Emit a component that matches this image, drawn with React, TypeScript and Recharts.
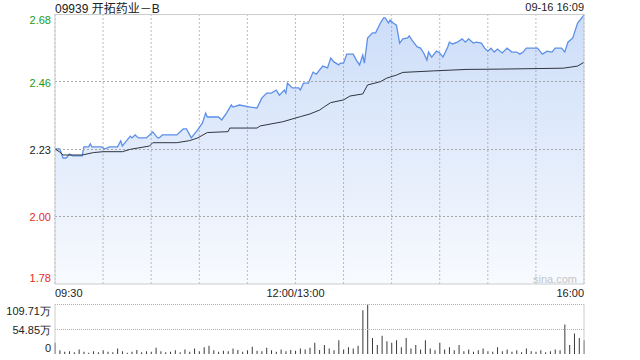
import React from 'react';
import {
  ComposedChart,
  Area,
  Line,
  XAxis,
  YAxis,
  CartesianGrid,
  ReferenceLine,
  BarChart,
  Bar,
} from 'recharts';

// 09939 intraday, 2.23 = previous close
const prevClose = 2.23;
const limitPcts = [0.2023, 0.1011, 0, -0.1011, -0.2023];
const priceTickLabels = ['2.68', '2.46', '2.23', '2.00', '1.78'];
const pctTickLabels = ['+20.23%', '+10.11%', '0.00%', '-10.11%', '-20.23%'];
const timeTicks = [0, 30, 60, 90, 120, 150, 180, 210, 240, 270, 300, 330];
const timeLabels: Record<number, string> = { 0: '09:30', 150: '12:00/13:00', 330: '16:00' };

// minutes since 09:30 (lunch break removed)
const priceMinutes = [
  0, 3, 5, 7, 9, 11, 17, 18, 21, 22, 23, 29, 31, 34, 39, 41, 42, 47, 48, 50,
  52, 57, 61, 64, 65, 67, 76, 80, 82, 85, 89, 92, 94, 95, 102, 104, 107, 110, 111, 115,
  122, 126, 129, 132, 135, 138, 140, 143, 144, 145, 148, 152, 153, 155, 158, 161, 163, 167, 170, 172,
  174, 177, 178, 180, 182, 186, 188, 190, 192, 193, 195, 198, 200, 203, 205, 206, 208, 209, 211, 213,
  215, 217, 220, 221, 223, 226, 228, 230, 232, 233, 235, 238, 240, 242, 245, 246, 248, 251, 254, 256,
  258, 261, 263, 266, 268, 270, 272, 274, 276, 279, 282, 285, 288, 290, 292, 294, 301, 303, 304, 307,
  310, 312, 316, 318, 320, 323, 324, 326, 328, 330,
];
const priceValues = [
  2.23, 2.23, 2.2, 2.2, 2.213, 2.207, 2.207, 2.237, 2.237, 2.247, 2.237, 2.237, 2.23, 2.237, 2.237, 2.257, 2.24, 2.273, 2.267, 2.277,
  2.267, 2.267, 2.287, 2.267, 2.267, 2.277, 2.277, 2.297, 2.297, 2.267, 2.294, 2.317, 2.35, 2.337, 2.337, 2.327, 2.35, 2.377, 2.37, 2.377,
  2.37, 2.367, 2.4, 2.417, 2.417, 2.427, 2.41, 2.427, 2.417, 2.45, 2.434, 2.434, 2.427, 2.45, 2.45, 2.487, 2.48, 2.507, 2.501, 2.534,
  2.521, 2.511, 2.517, 2.517, 2.547, 2.547, 2.527, 2.511, 2.544, 2.517, 2.601, 2.618, 2.618, 2.651, 2.668, 2.668, 2.651, 2.661, 2.651, 2.644,
  2.584, 2.598, 2.601, 2.608, 2.591, 2.571, 2.567, 2.551, 2.527, 2.554, 2.537, 2.557, 2.551, 2.537, 2.571, 2.587, 2.581, 2.587, 2.598, 2.587,
  2.598, 2.584, 2.587, 2.584, 2.567, 2.557, 2.567, 2.554, 2.564, 2.551, 2.567, 2.554, 2.554, 2.547, 2.554, 2.567, 2.567, 2.554, 2.547, 2.557,
  2.554, 2.567, 2.567, 2.554, 2.587, 2.601, 2.618, 2.651, 2.664, 2.678,
];

const avgMinutes = [
  0, 3, 5, 17, 24, 30, 42, 47, 59, 61, 76, 84, 89, 95, 108, 109, 126, 128, 142, 153,
  159, 165, 168, 172, 180, 184, 192, 195, 203, 207, 213, 217, 236, 257, 278, 317, 326, 330,
];
const avgValues = [
  2.23, 2.22, 2.21, 2.21, 2.218, 2.221, 2.221, 2.229, 2.24, 2.251, 2.251, 2.258, 2.267, 2.285, 2.288, 2.3, 2.3, 2.307, 2.321, 2.338,
  2.347, 2.36, 2.371, 2.385, 2.394, 2.407, 2.414, 2.444, 2.455, 2.467, 2.477, 2.486, 2.491, 2.496, 2.497, 2.5, 2.507, 2.52,
];

// volume (万股), one bar every 3 minutes
const volumeValues = [
  25, 8, 5, 6, 4, 10, 5, 3, 6, 4,
  8, 5, 4, 12, 6, 3, 5, 9, 4, 6,
  5, 14, 6, 4, 5, 8, 4, 10, 5, 12,
  6, 15, 18, 8, 5, 7, 6, 12, 9, 5,
  8, 16, 7, 6, 14, 8, 5, 10, 6, 9,
  7, 12, 10, 14, 25, 9, 20, 12, 8, 30,
  10, 15, 12, 18, 96, 110, 35, 20, 40, 28,
  25, 30, 15, 35, 12, 20, 10, 30, 12, 8,
  25, 10, 15, 8, 20, 6, 10, 5, 8, 12,
  6, 5, 15, 6, 10, 5, 8, 4, 12, 6,
  5, 8, 4, 6, 10, 8, 65, 20, 45, 35,
  30,
];
const volumeMax = 109.71;
const volumeTicks = [0, 54.85, 109.71];
const volumeTickLabels = ['0', '54.85万', '109.71万'];

const priceTicks = limitPcts.map((p) => prevClose * (1 + p));
const lo = priceTicks[priceTicks.length - 1];
const hi = priceTicks[0];

// merge price + avg on the minute axis
const minuteSet = Array.from(new Set([...priceMinutes, ...avgMinutes])).sort((a, b) => a - b);
const priceData = minuteSet.map((m) => {
  const pi = priceMinutes.indexOf(m);
  const ai = avgMinutes.indexOf(m);
  return {
    t: m,
    price: pi >= 0 ? priceValues[pi] : null,
    avg: ai >= 0 ? avgValues[ai] : null,
  };
});
const volumeData = volumeValues.map((v, i) => ({ t: i * 3, vol: v }));

const FONT = '"Liberation Sans", Arial, sans-serif';
const GREEN = '#1a9b1a';
const RED = '#e8291f';

const tickColor = (i: number) => (i < 2 ? GREEN : i === 2 ? '#222' : RED);
const edgeShift = (i: number, n: number) => (i === 0 ? 6 : i === n - 1 ? -6 : 1);

const LeftPriceTick = ({ y, index }: any) => (
  <text x={51} y={y + edgeShift(index, 5)} textAnchor="end" dominantBaseline="central"
    fontSize={11} fontFamily={FONT} fill={tickColor(index)}>
    {priceTickLabels[index]}
  </text>
);

const RightPctTick = ({ y, index }: any) => (
  <text x={590} y={y + edgeShift(index, 5)} textAnchor="start" dominantBaseline="central"
    fontSize={11} fontFamily={FONT} fill={tickColor(index)}>
    {pctTickLabels[index]}
  </text>
);

const TimeTick = ({ x, payload }: any) => {
  const label = timeLabels[payload.value];
  if (!label) return null;
  const anchor = payload.value === 0 ? 'start' : payload.value === 330 ? 'end' : 'middle';
  return (
    <text x={x} y={293} textAnchor={anchor} dominantBaseline="central"
      fontSize={11} fontFamily={FONT} fill="#222">
      {label}
    </text>
  );
};

const VolumeTick = ({ y, index }: any) => {
  const shift = index === 2 ? 7 : index === 0 ? -6 : 1;
  return (
    <text x={51} y={y + shift} textAnchor="end" dominantBaseline="central"
      fontSize={11} fontFamily={FONT} fill="#222">
      {volumeTickLabels[index]}
    </text>
  );
};

export default function App() {
  return (
    <div style={{ position: 'absolute', left: 0, top: 0, width: 640, height: 360, background: '#fff', fontFamily: FONT }}>
      <div style={{ position: 'absolute', left: 55, top: 0, fontSize: 12, color: '#222', lineHeight: '15px' }}>
        09939 <span style={{ fontFamily: '"Noto Sans CJK SC", sans-serif' }}>开拓药业－</span>B
      </div>
      <div style={{ position: 'absolute', right: 56, top: 0, fontSize: 11, color: '#222', lineHeight: '15px' }}>
        09-16 16:09
      </div>
      <div style={{ position: 'absolute', left: 533, top: 272, fontSize: 11, color: '#c8c8c8', lineHeight: '14px' }}>
        sina.com
      </div>

      <ComposedChart width={640} height={300} data={priceData}
        margin={{ top: 14, right: 0, bottom: 0, left: 0 }}>
        <defs>
          <linearGradient id="priceFill" x1="0" y1="0" x2="0" y2="1">
            <stop offset="0%" stopColor="#4a86e8" stopOpacity={0.28} />
            <stop offset="100%" stopColor="#4a86e8" stopOpacity={0.04} />
          </linearGradient>
        </defs>
        <CartesianGrid yAxisId="left" stroke="#bdbdbd" strokeDasharray="2 2" horizontal={false} />
        <XAxis dataKey="t" type="number" domain={[0, 330]} ticks={timeTicks}
          height={16} tickLine={false} axisLine={{ stroke: '#cccccc' }} tick={<TimeTick />} interval={0} />
        <YAxis yAxisId="left" domain={[lo, hi]} ticks={priceTicks} width={55}
          tickLine={false} axisLine={{ stroke: '#cccccc' }} tick={<LeftPriceTick />} interval={0} />
        <YAxis yAxisId="right" orientation="right" domain={[lo, hi]} ticks={priceTicks} width={56}
          tickLine={false} axisLine={{ stroke: '#cccccc' }} tick={<RightPctTick />} interval={0} />
        {priceTicks.slice(1, -1).map((v) => (
          <ReferenceLine key={v} yAxisId="left" y={v} stroke="#a8a8a8" strokeDasharray="2 2"
            shapeRendering="crispEdges" />
        ))}
        <ReferenceLine yAxisId="left" y={hi} stroke="#cccccc" shapeRendering="crispEdges" />
        <Area yAxisId="left" type="linear" dataKey="price" stroke="#5b8fe9" strokeWidth={1.3}
          fill="url(#priceFill)" fillOpacity={1} connectNulls dot={false} activeDot={false}
          isAnimationActive={false} baseValue={lo} />
        <Line yAxisId="left" type="linear" dataKey="avg" stroke="#2f3540" strokeWidth={1}
          connectNulls dot={false} activeDot={false} isAnimationActive={false} />
      </ComposedChart>

      <div style={{ position: 'absolute', left: 0, top: 296 }}>
        <BarChart width={640} height={64} data={volumeData}
          margin={{ top: 8, right: 0, bottom: 6, left: 0 }}>
          <XAxis dataKey="t" type="number" domain={[0, 330]} hide />
          <YAxis yAxisId="left" domain={[0, volumeMax]} ticks={volumeTicks} width={55}
            tickLine={false} axisLine={{ stroke: '#cccccc' }} tick={<VolumeTick />} interval={0} />
          <YAxis yAxisId="right" orientation="right" domain={[0, volumeMax]} ticks={volumeTicks} width={56}
            tickLine={false} axisLine={{ stroke: '#cccccc' }} tick={false} />
          {volumeTicks.slice(1).map((v) => (
            <ReferenceLine key={v} yAxisId="left" y={v} stroke="#b0b0b0" strokeDasharray="1 1"
              shapeRendering="crispEdges" />
          ))}
          <Bar yAxisId="left" dataKey="vol" fill="#3a3a3a" barSize={1} isAnimationActive={false} />
        </BarChart>
      </div>
    </div>
  );
}
